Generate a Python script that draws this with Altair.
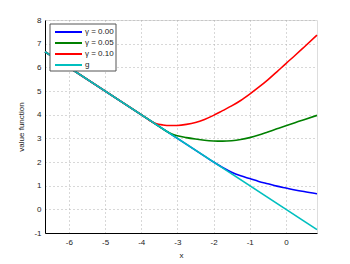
import altair as alt
import pandas as pd

# g(x) = -x (straight line)
g_x = [-6.66, 0.86]
g_y = [6.66, -0.86]

# gamma = 0.00
b_x = [-6.66, -2.25, -2.0, -1.75, -1.5, -1.25, -1.0, -0.75, -0.5, -0.25, 0.0, 0.25, 0.5, 0.86]
b_y = [6.66, 2.25, 2.0, 1.77, 1.57, 1.42, 1.3, 1.18, 1.08, 0.98, 0.9, 0.82, 0.75, 0.66]

# gamma = 0.05
gr_x = [-6.66, -3.5, -3.3, -3.15, -3.0, -2.75, -2.5, -2.25, -2.0, -1.75, -1.5, -1.25, -1.0,
        -0.75, -0.5, -0.25, 0.0, 0.25, 0.5, 0.86]
gr_y = [6.66, 3.5, 3.3, 3.18, 3.11, 3.03, 2.97, 2.92, 2.89, 2.88, 2.9, 2.95, 3.03,
        3.14, 3.27, 3.40, 3.53, 3.66, 3.79, 3.97]

# gamma = 0.10
r_x = [-6.66, -4.0, -3.85, -3.75, -3.6, -3.4, -3.2, -3.0, -2.75, -2.5, -2.25, -2.0, -1.75, -1.5,
       -1.25, -1.0, -0.75, -0.5, -0.25, 0.0, 0.25, 0.5, 0.86]
r_y = [6.66, 4.0, 3.85, 3.74, 3.63, 3.565, 3.54, 3.545, 3.59, 3.67, 3.8, 3.97, 4.17, 4.37,
       4.6, 4.87, 5.16, 5.47, 5.81, 6.16, 6.5, 6.85, 7.36]

labels = ["\u03b3 = 0.00", "\u03b3 = 0.05", "\u03b3 = 0.10", "g"]
colors = ["#0000ff", "#008000", "#ff0000", "#00bfbf"]

rows = []
for lab, xs, ys in [(labels[0], b_x, b_y), (labels[1], gr_x, gr_y), (labels[2], r_x, r_y), (labels[3], g_x, g_y)]:
    for i, (a, b) in enumerate(zip(xs, ys)):
        rows.append({"x": a, "v": b, "series": lab, "i": i})
df = pd.DataFrame(rows)

font = "Liberation Sans"

color = alt.Color("series:N", scale=alt.Scale(domain=labels, range=colors), legend=None)

xenc = alt.X("x:Q", scale=alt.Scale(domain=[-6.66, 0.86], nice=False, zero=False),
             axis=alt.Axis(title="x", values=[-6, -5, -4, -3, -2, -1, 0],
                           labelExpr="'' + datum.value",
                           grid=True, gridDash=[1, 3], gridColor="#b0b0b0",
                           ticks=False, domainColor="#000", labelFontSize=8,
                           labelFont=font, titleFont=font, titleFontSize=8,
                           titleFontWeight="normal", labelColor="#222", titleColor="#222",
                           labelPadding=5, titlePadding=5))
yenc = alt.Y("v:Q", scale=alt.Scale(domain=[-1, 8], nice=False, zero=False),
             axis=alt.Axis(title="value function", values=list(range(-1, 9)),
                           labelExpr="'' + datum.value",
                           grid=True, gridDash=[1, 3], gridColor="#b0b0b0",
                           ticks=False, domainColor="#000", labelFontSize=8,
                           labelFont=font, titleFont=font, titleFontSize=8,
                           titleFontWeight="normal", labelColor="#222", titleColor="#222",
                           labelPadding=4, titlePadding=8))

base = alt.Chart(df).mark_line(strokeWidth=1.6, interpolate="monotone").encode(
    x=xenc, y=yenc, color=color, order="i:Q", detail="series:N"
)

gam = base.transform_filter(alt.datum.series != "g")
gline = base.transform_filter(alt.datum.series == "g")

one = pd.DataFrame({"k": [0]})
legend_layers = [
    alt.Chart(one).mark_rect(fill="white", stroke="#555", strokeWidth=1).encode(
        x=alt.value(5), x2=alt.value(71), y=alt.value(4), y2=alt.value(51))
]
for i, (lab, col) in enumerate(zip(labels, colors)):
    yy = 12 + 11 * i
    legend_layers.append(
        alt.Chart(one).mark_rule(color=col, strokeWidth=2).encode(
            x=alt.value(10), x2=alt.value(37), y=alt.value(yy)))
    legend_layers.append(
        alt.Chart(one).mark_text(align="left", baseline="middle", font=font,
                                 fontSize=8, color="#222").encode(
            x=alt.value(40), y=alt.value(yy), text=alt.value(lab)))

chart = alt.layer(gam, gline, *legend_layers).properties(
    width=272, height=213, autosize="none",
    padding={"left": 37, "top": 12, "right": 25, "bottom": 31},
).configure_view(stroke="#888", strokeWidth=1).configure(background="white")

chart.save("out.html", embed_options={"renderer": "svg", "actions": False})
